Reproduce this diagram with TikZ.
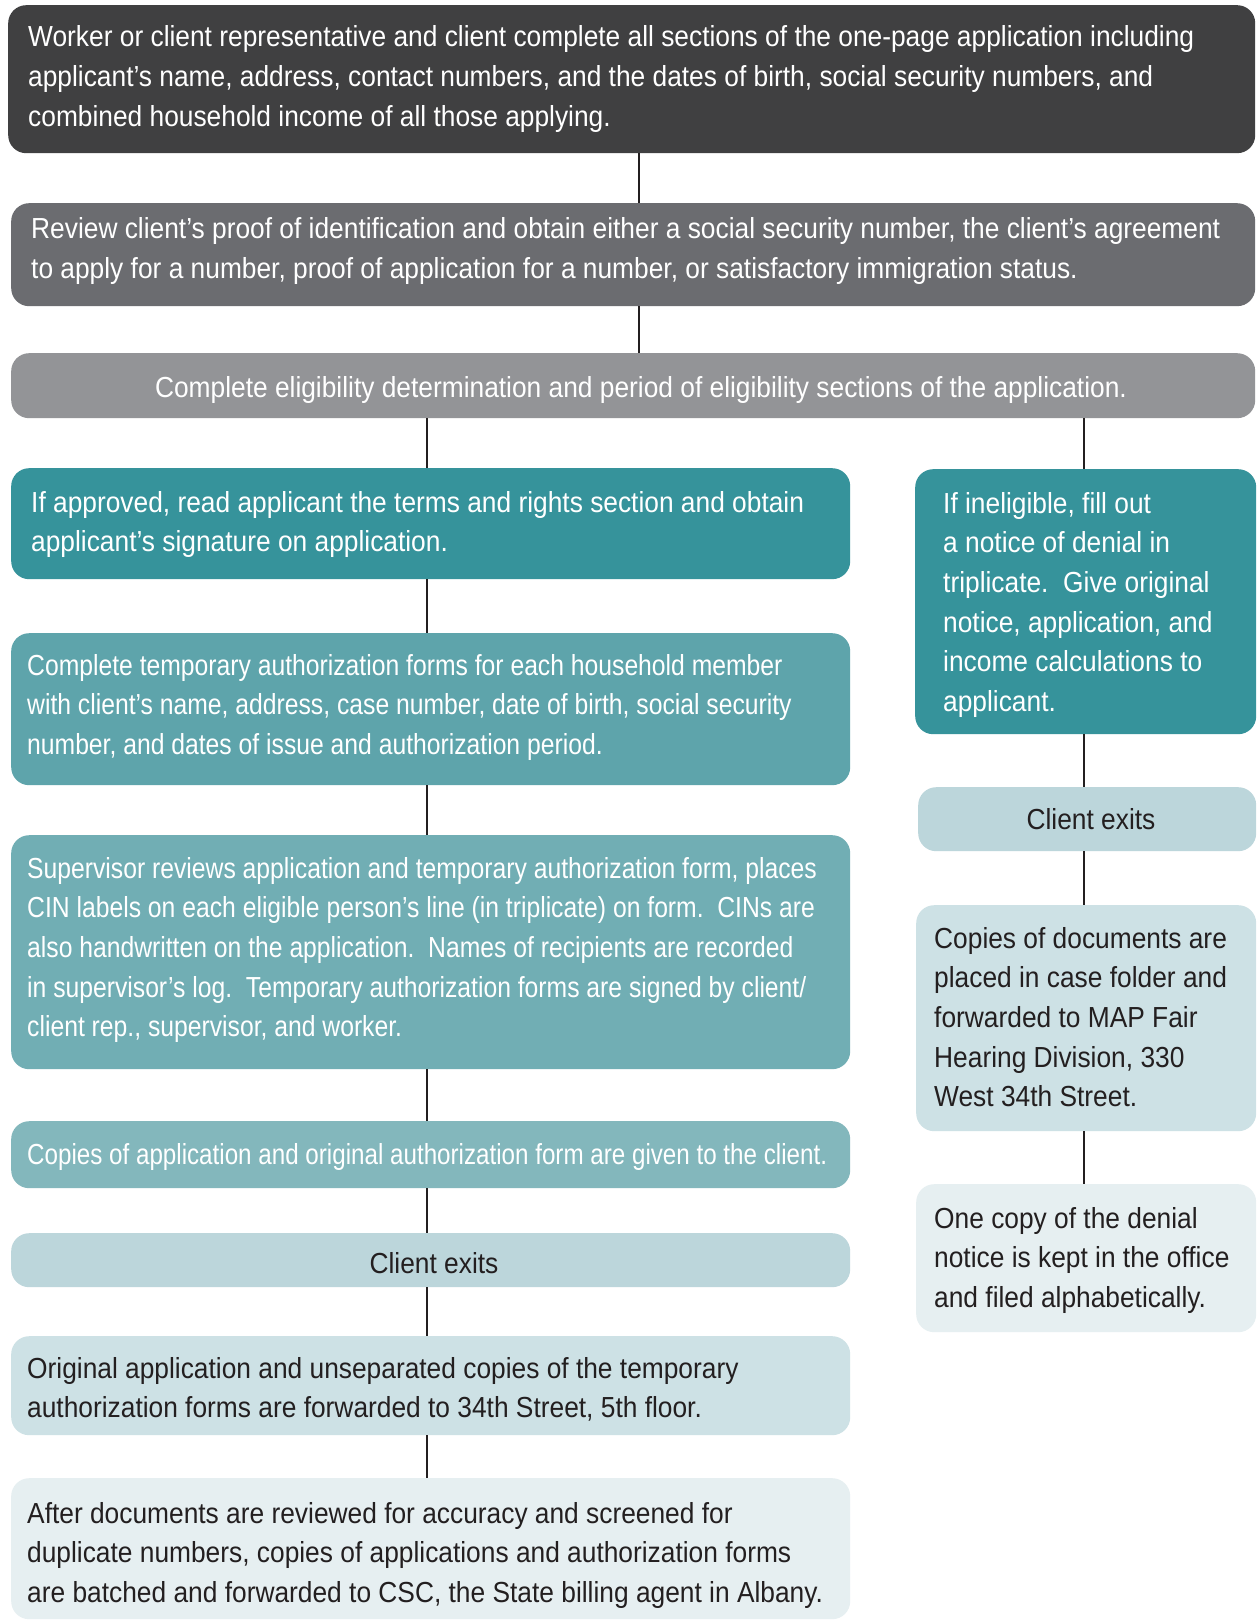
\documentclass[tikz,border=0pt]{standalone}
\usepackage{fontspec}
\setmainfont{Liberation Sans}[FakeStretch=0.908]
\newfontfamily\fcondB{Liberation Sans}[FakeStretch=0.852]
\newfontfamily\fcondC{Liberation Sans}[FakeStretch=0.834]
\definecolor{cA}{HTML}{404041}
\definecolor{cB}{HTML}{6B6C70}
\definecolor{cC}{HTML}{939497}
\definecolor{cD}{HTML}{36939B}
\definecolor{cE}{HTML}{5EA4AB}
\definecolor{cF}{HTML}{71AEB4}
\definecolor{cG}{HTML}{83B7BC}
\definecolor{cH}{HTML}{BCD6DB}
\definecolor{cI}{HTML}{CDE1E5}
\definecolor{cJ}{HTML}{E6EFF1}
\definecolor{ink}{HTML}{231F20}
\tikzset{
  box/.style={rounded corners=18pt, draw=none, inner sep=0pt, anchor=north west},
  txt/.style={inner sep=0pt, font=\fontsize{29}{39.7}\selectfont},
  txtB/.style={inner sep=0pt, font=\fcondB\fontsize{29}{39.7}\selectfont},
  txtC/.style={inner sep=0pt, font=\fcondC\fontsize{29}{39.7}\selectfont},
  conn/.style={draw=ink, line width=2.2pt}
}
\newcommand{\pb}[1]{\parbox[t]{1230pt}{\raggedright #1}}
\begin{document}
\begin{tikzpicture}[x=1pt,y=-1pt]
\fill[white] (0,0) rectangle (1256,1621);
\useasboundingbox (0,0) rectangle (1256,1621);
% boxes
\node[box, fill=cA, minimum width=1247pt, minimum height=148pt] (b1) at (8,5) {};
\node[box, fill=cB, minimum width=1244pt, minimum height=103pt] (b2) at (11,203) {};
\node[box, fill=cC, minimum width=1244pt, minimum height=65pt] (b3) at (11,353) {};
\node[box, fill=cD, minimum width=839pt, minimum height=111pt] (ap) at (11,468) {};
\node[box, fill=cE, minimum width=839pt, minimum height=152pt] (tmp) at (11,633) {};
\node[box, fill=cF, minimum width=839pt, minimum height=234pt] (sup) at (11,835) {};
\node[box, fill=cG, minimum width=839pt, minimum height=67pt] (cop) at (11,1121) {};
\node[box, fill=cH, minimum width=839pt, minimum height=54pt] (cel) at (11,1233) {};
\node[box, fill=cI, minimum width=839pt, minimum height=99pt] (orig) at (11,1336) {};
\node[box, fill=cJ, minimum width=839pt, minimum height=141pt] (aft) at (11,1478) {};
\node[box, fill=cD, minimum width=341pt, minimum height=265pt] (inel) at (915,469) {};
\node[box, fill=cH, minimum width=338pt, minimum height=64pt] (cer) at (918,787) {};
\node[box, fill=cI, minimum width=340pt, minimum height=226pt] (cd) at (916,905) {};
\node[box, fill=cJ, minimum width=340pt, minimum height=148pt] (oc) at (916,1184) {};
% texts
\node[txt, text=white, anchor=base west] (t1) at (28,47) {\pb{Worker or client representative and client complete all sections of the one-page application including\\applicant’s name, address, contact numbers, and the dates of birth, social security numbers, and\\combined household income of all those applying.}};
\node[txt, text=white, anchor=base west] (t2) at (31,239) {\pb{Review client’s proof of identification and obtain either a social security number, the client’s agreement\\to apply for a number, proof of application for a number, or satisfactory immigration status.}};
\node[txt, text=white, anchor=base] (t3) at (641,397) {Complete eligibility determination and period of eligibility sections of the application.};
\node[txt, text=white, anchor=base west] (tap) at (31,512) {\pb{If approved, read applicant the terms and rights section and obtain\\applicant’s signature on application.}};
\node[txtB, text=white, anchor=base west] (ttmp) at (27,675) {\pb{Complete temporary authorization forms for each household member\\with client’s name, address, case number, date of birth, social security\\number, and dates of issue and authorization period.}};
\node[txtB, text=white, anchor=base west] (tsup) at (27,878) {\pb{Supervisor reviews application and temporary authorization form, places\\CIN labels on each eligible person’s line (in triplicate) on form.\ \ CINs are\\also handwritten on the application.\ \ Names of recipients are recorded\\in supervisor’s log.\ \ Temporary authorization forms are signed by client/\\client rep., supervisor, and worker.}};
\node[txtC, text=white, anchor=base west] (tcop) at (27,1164) {Copies of application and original authorization form are given to the client.};
\node[txt, text=ink, anchor=base] (tcel) at (434,1273) {Client exits};
\node[txt, text=ink, anchor=base west] (torig) at (27,1378) {\pb{Original application and unseparated copies of the temporary\\authorization forms are forwarded to 34th Street, 5th floor.}};
\node[txt, text=ink, anchor=base west] (taft) at (27,1523) {\pb{After documents are reviewed for accuracy and screened for\\duplicate numbers, copies of applications and authorization forms\\are batched and forwarded to CSC, the State billing agent in Albany.}};
\node[txt, text=white, anchor=base west] (tinel) at (943,513) {\pb{If ineligible, fill out\\a notice of denial in\\triplicate.\ \ Give original\\notice, application, and\\income calculations to\\applicant.}};
\node[txt, text=ink, anchor=base] (tcer) at (1091,829) {Client exits};
\node[txt, text=ink, anchor=base west] (tcd) at (934,948) {\pb{Copies of documents are\\placed in case folder and\\forwarded to MAP Fair\\Hearing Division, 330\\West 34th Street.}};
\node[txt, text=ink, anchor=base west] (toc) at (934,1228) {\pb{One copy of the denial\\notice is kept in the office\\and filed alphabetically.}};
% connector columns
\coordinate (xm) at (639,0);
\coordinate (xl) at (427,0);
\coordinate (xr) at (1084,0);
\draw[conn] (b1.south -| xm) -- (b2.north -| xm);
\draw[conn] (b2.south -| xm) -- (b3.north -| xm);
\draw[conn] (b3.south -| xl) -- (ap.north -| xl);
\draw[conn] (ap.south -| xl) -- (tmp.north -| xl);
\draw[conn] (tmp.south -| xl) -- (sup.north -| xl);
\draw[conn] (sup.south -| xl) -- (cop.north -| xl);
\draw[conn] (cop.south -| xl) -- (cel.north -| xl);
\draw[conn] (cel.south -| xl) -- (orig.north -| xl);
\draw[conn] (orig.south -| xl) -- (aft.north -| xl);
\draw[conn] (b3.south -| xr) -- (inel.north -| xr);
\draw[conn] (inel.south -| xr) -- (cer.north -| xr);
\draw[conn] (cer.south -| xr) -- (cd.north -| xr);
\draw[conn] (cd.south -| xr) -- (oc.north -| xr);
\end{tikzpicture}
\end{document}
